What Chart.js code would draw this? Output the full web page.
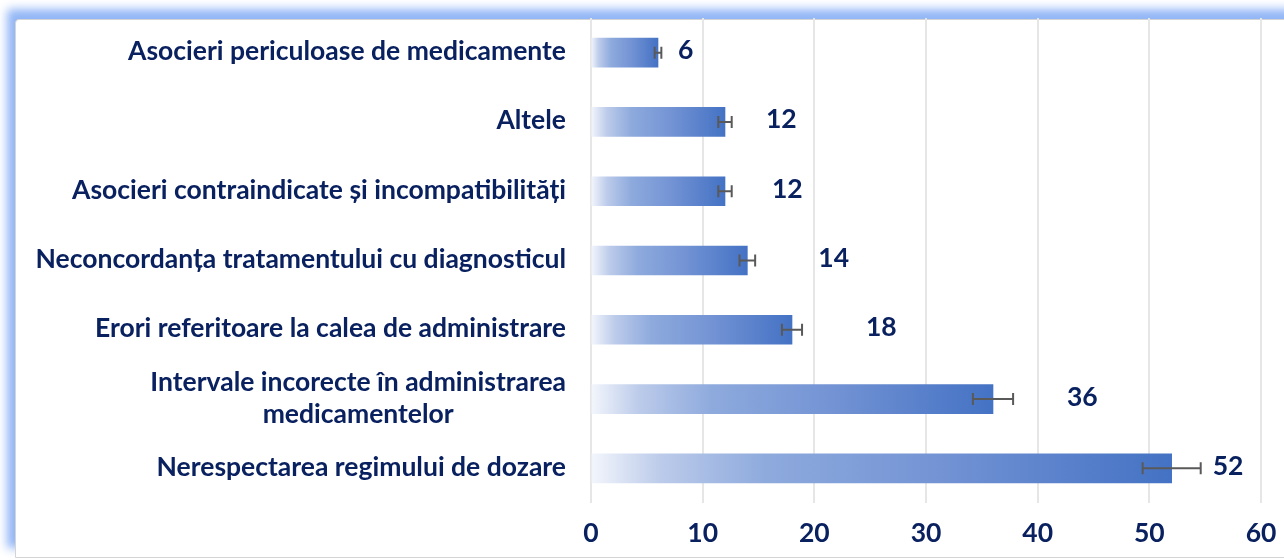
<!DOCTYPE html>
<html>
<head>
<meta charset="utf-8">
<script src="https://cdn.jsdelivr.net/npm/chart.js@4/dist/chart.umd.min.js"></script>
<style>
  html, body { margin: 0; padding: 0; background: #ffffff; width: 1284px; height: 560px; overflow: hidden; }
  #frame {
    position: absolute; left: 15px; top: 19px; width: 1300px; height: 537px;
    background: #ffffff; border: 1px solid #d4d4d4;
    border-top-left-radius: 4px;
    box-shadow: -8px -10px 10px 0px rgba(140,178,245,0.95);
  }
  #c { position: absolute; left: 0; top: 0; }
</style>
</head>
<body>
<div id="frame"></div>
<canvas id="c" width="1284" height="560"></canvas>
<script>
const categories = [
  ["Asocieri periculoase de medicamente"],
  ["Altele"],
  ["Asocieri contraindicate și incompatibilități"],
  ["Neconcordanța tratamentului cu diagnosticul"],
  ["Erori referitoare la calea de administrare"],
  ["Intervale incorecte în administrarea", "medicamentelor"],
  ["Nerespectarea regimului de dozare"]
];
const values = [6, 12, 12, 14, 18, 36, 52];
const errors = [0.3, 0.6, 0.6, 0.7, 0.9, 1.8, 2.6];
const xTicks = [0, 10, 20, 30, 40, 50, 60];

const FONT = "Lato";
const TEXT = "#0a2160";
const FS = 26.5;

function barGradient(ctx) {
  const chart = ctx.chart;
  const x = chart.scales && chart.scales.x;
  if (!x || ctx.type !== 'data') return '#4472C4';
  const x0 = x.getPixelForValue(0);
  const x1 = x.getPixelForValue(ctx.raw);
  if (!isFinite(x0) || !isFinite(x1) || x1 <= x0) return '#4472C4';
  const g = chart.ctx.createLinearGradient(x0, 0, x1, 0);
  g.addColorStop(0, '#f3f6fc');
  g.addColorStop(0.12, '#bccbea');
  g.addColorStop(0.3, '#8eaadd');
  g.addColorStop(0.6, '#7393d4');
  g.addColorStop(1, '#4472c4');
  return g;
}

const overlay = {
  id: 'overlay',
  afterDatasetsDraw(chart, args, opts) {
    const c = chart.ctx;
    const xs = chart.scales.x, ys = chart.scales.y;
    const meta = chart.getDatasetMeta(0);
    // error bars
    c.save();
    c.strokeStyle = '#595959';
    c.lineWidth = 2;
    meta.data.forEach((el, i) => {
      const y = el.y;
      const a = xs.getPixelForValue(values[i] - errors[i]);
      const b = xs.getPixelForValue(values[i] + errors[i]);
      c.beginPath();
      c.moveTo(a, y); c.lineTo(b, y);
      c.moveTo(a, y - 6); c.lineTo(a, y + 6);
      c.moveTo(b, y - 6); c.lineTo(b, y + 6);
      c.stroke();
    });
    // value labels
    c.fillStyle = TEXT;
    c.font = `bold ${FS}px ${FONT}`;
    c.textAlign = 'left';
    c.textBaseline = 'middle';
    meta.data.forEach((el, i) => {
      c.fillText(String(values[i]), el.x + opts.labelOffsets[i], el.y - 2);
    });
    // category labels: block right-aligned, lines centered within block
    const right = opts.catRight;
    const lh = opts.lineHeight;
    categories.forEach((lines, i) => {
      const y = ys.getPixelForValue(i);
      const widths = lines.map(l => c.measureText(l).width);
      const w = Math.max(...widths);
      const cx = right - w / 2;
      c.textAlign = 'center';
      lines.forEach((l, j) => {
        c.fillText(l, cx, y + (j - (lines.length - 1) / 2) * lh - 1);
      });
    });
    c.restore();
  }
};

new Chart(document.getElementById('c'), {
  type: 'bar',
  data: {
    labels: categories,
    datasets: [{
      data: values,
      backgroundColor: barGradient,
      borderWidth: 0,
      barThickness: 29
    }]
  },
  options: {
    indexAxis: 'y',
    responsive: false,
    animation: false,
    events: [],
    layout: { padding: { top: 18, right: 23, bottom: 0, left: 0 } },
    plugins: {
      legend: { display: false },
      tooltip: { enabled: false },
      overlay: { labelOffsets: [20, 41, 47, 71, 74, 74, 41], catRight: 566, lineHeight: 32 }
    },
    scales: {
      y: {
        afterFit(a) { a.width = 591; a.paddingTop = 0; a.paddingBottom = 0; },
        ticks: { display: false },
        grid: { display: false },
        border: { display: false }
      },
      x: {
        min: 0, max: 60,
        afterFit(a) { a.height = 57; a.paddingLeft = 0; a.paddingRight = 0; },
        afterBuildTicks(a) { a.ticks = xTicks.map(v => ({ value: v })); },
        ticks: {
          color: TEXT,
          font: { family: FONT, size: FS, weight: 'bold' },
          padding: 15
        },
        grid: { color: '#e6e6e6', lineWidth: 2, drawTicks: false },
        border: { display: false }
      }
    }
  },
  plugins: [overlay]
});
</script>
</body>
</html>
